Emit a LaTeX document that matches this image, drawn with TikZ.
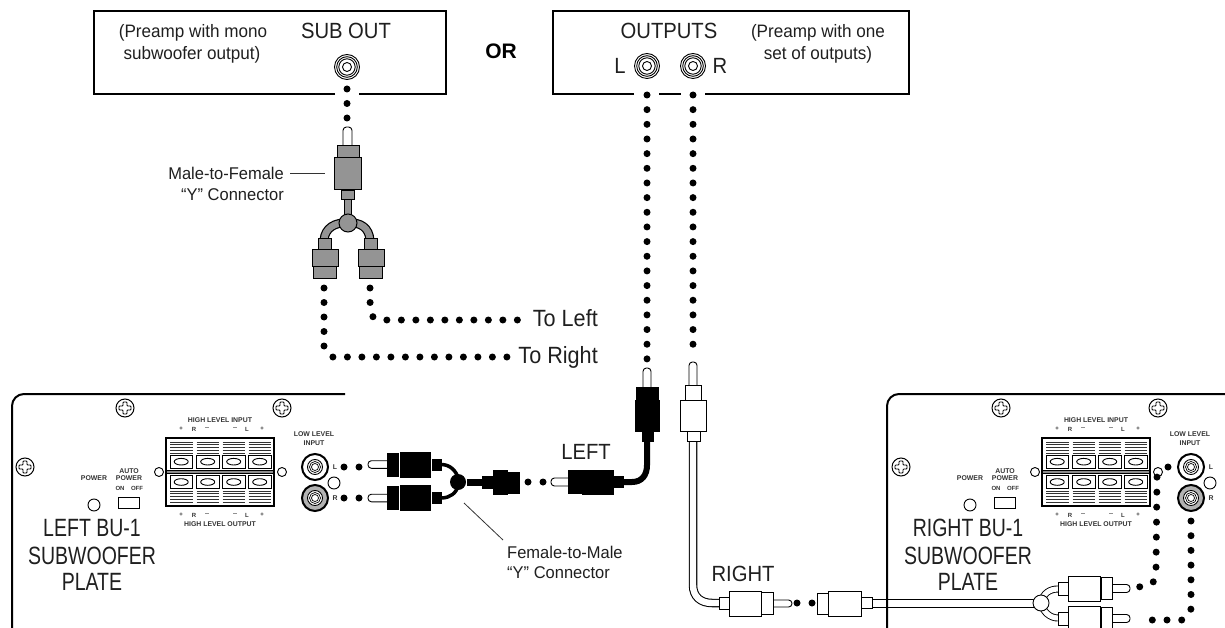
\documentclass[tikz,border=0pt]{standalone}
\usepackage{fontspec}
\setmainfont{Liberation Sans}
\newfontfamily\tinyfont{Liberation Sans}
\newfontfamily\bigfont{Liberation Sans}[FakeStretch=0.78]
\newfontfamily\midfont{Liberation Sans}[FakeStretch=0.92]
\newfontfamily\notefont{Liberation Sans}[FakeStretch=0.95]
\newfontfamily\labfont{Liberation Sans}[FakeStretch=0.97]
\tikzset{
  big/.style={font=\bigfont\fontsize{25}{25}\selectfont,inner sep=0pt,text=black!88},
  mid/.style={font=\midfont\fontsize{22}{22}\selectfont,inner sep=0pt,text=black!88},
  toline/.style={font=\midfont\fontsize{23.5}{24}\selectfont,inner sep=0pt,text=black!88},
  note/.style={font=\notefont\fontsize{18}{18}\selectfont,inner sep=0pt,text=black!88},
  lab/.style={font=\labfont\fontsize{17}{17}\selectfont,inner sep=0pt,text=black!88},
  tiny/.style={font=\tinyfont\bfseries\fontsize{6.9}{7}\selectfont,inner sep=0pt,text=black!80},
  tinier/.style={font=\tinyfont\bfseries\fontsize{6}{6}\selectfont,inner sep=0pt,text=black!80},
  dotsline/.style={line width=7pt,line cap=round,dash pattern=on 0pt off 14.5pt},
  edge/.style={line width=2pt,draw=black},
  thin line/.style={line width=0.8pt,draw=black!80},
  blk/.style={fill=black,draw=black,line width=0.6pt},
  gry/.style={fill=black!42,draw=black,line width=1pt},
  wht/.style={fill=white,draw=black,line width=0.9pt},
  tipw/.style={fill=white,draw=black,line width=0.9pt,rounded corners=3.4pt},
  hole/.style={circle,draw=black,line width=0.9pt,fill=white,inner sep=0pt,minimum size=12pt},
  slat/.style={line width=0.55pt,draw=black!80},
}
\newcommand{\screw}[3]{%
  \node[circle,draw=black,line width=1pt,minimum size=18pt,inner sep=0pt] (#1) at (#2,#3) {};
  \draw[line width=0.8pt,rounded corners=0.8pt,shift={(#2,#3)}]
    (-2,-6)--(2,-6)--(2,-2)--(6,-2)--(6,2)--(2,2)--(2,6)--(-2,6)--(-2,2)--(-6,2)--(-6,-2)--(-2,-2)--cycle;
}
\newcommand{\plate}[1]{%
  \screw{#1s1}{125}{408}\screw{#1s2}{282}{408}\screw{#1s3}{25}{467}
  \draw[line width=1.4pt,fill=white] (166,438) rectangle (274,506);
  \fill[black!45] (167,470.5) rectangle (273,473.5);
  \draw[line width=0.8pt] (166,470.2)--(274,470.2) (166,473.8)--(274,473.8);
  \foreach \cx in {170,196.5,222.5,248.5}{
    \foreach \ly in {442,444.7,447.4,450.1,453}{\draw[slat] (\cx,\ly)--(\cx+22.5,\ly);}
    \foreach \ly in {491,493.7,496.4,499.1,502}{\draw[slat] (\cx,\ly)--(\cx+22.5,\ly);}
    \draw[line width=1pt] (\cx,455.5) rectangle (\cx+22.5,468);
    \draw[line width=1pt] (\cx,475.5) rectangle (\cx+22.5,488.5);
    \draw[line width=0.9pt] (\cx+11.2,461.7) ellipse [x radius=7,y radius=3.3];
    \draw[line width=0.9pt] (\cx+11.2,482) ellipse [x radius=7,y radius=3.3];
  }
  \node[hole,minimum size=9pt] (#1hl) at (159,472) {};
  \node[hole,minimum size=9pt] (#1hr) at (282,472) {};
  \node[hole] (#1pw) at (94,505) {};
  \node[hole] (#1hm) at (334,483) {};
  \draw[line width=0.9pt] (118,497) rectangle (139,508);
  \node[tiny] (#1t1) at (220,420) {HIGH LEVEL INPUT};
  \node[tiny] (#1t2) at (220,524) {HIGH LEVEL OUTPUT};
  \node[tiny] (#1t3) at (314,434.5) {LOW LEVEL};
  \node[tiny] (#1t4) at (314,443) {INPUT};
  \node[tiny] (#1t5) at (94,478.5) {POWER};
  \node[tiny] (#1t6) at (129,471) {AUTO};
  \node[tiny] (#1t7) at (129,478.5) {POWER};
  \node[tinier] (#1t8) at (120,488) {ON};
  \node[tinier] (#1t9) at (137,488) {OFF};
  \foreach \lx/\ls [count=\li] in {181/+,194/R,207/--,235/--,247/L,262/+}{
    \node[tinier] (#1u\li) at (\lx,429) {\ls};
    \node[tinier] (#1d\li) at (\lx,515) {\ls};
  }
  \node[circle,draw=black,line width=2pt,fill=white,minimum size=26pt,inner sep=0pt] (#1jl) at (315,467) {};
  \node[circle,draw=black,line width=2pt,fill=black!30,minimum size=26pt,inner sep=0pt] (#1jr) at (315,498) {};
  \foreach \jn in {jl,jr}{
    \draw[line width=0.9pt,fill=white] (#1\jn) circle (7.5pt);
    \draw[line width=0.7pt] (#1\jn) circle (5.5pt);
    \draw[line width=0.7pt] (#1\jn) circle (3.5pt);
  }
  \node[tiny] (#1L) at (335,467) {L};
  \node[tiny] (#1R) at (335,498) {R};
}
\newcommand{\topjack}[3]{%
  \node[circle,draw=black,line width=0.9pt,minimum size=25pt,inner sep=0pt] (#1) at (#2,#3) {};
  \draw[line width=0.9pt] (#1) circle (10.3pt);
  \draw[line width=0.9pt] (#1) circle (8.2pt);
  \draw[line width=0.9pt] (#1) circle (4.5pt);
}
\begin{document}
\begin{tikzpicture}[x=1pt,y=-1pt]
\useasboundingbox (0,0) rectangle (1225,628);
\clip (0,0) rectangle (1225,628);
% ---- preamp boxes
\draw[edge] (335,94) -| (94,11) -| (446,94) -- (359,94);
\draw[edge] (634,94) -| (553,11) -| (909,94) -- (705,94);
\draw[edge] (659,94) -- (681,94);
\node[note] (pl1) at (193,33) {(Preamp with mono};
\node[note] (pl2) at (192,55) {subwoofer output)};
\node[mid] (subout) at (346,31) {SUB OUT};
\node[font=\bfseries\fontsize{21}{21}\selectfont,inner sep=0pt] (or) at (501,51) {OR};
\node[mid] (outputs) at (669,31) {OUTPUTS};
\node[mid] (Ltxt) at (620,66) {L};
\node[mid] (Rtxt) at (720,66) {R};
\node[note] (pr1) at (818,33) {(Preamp with one};
\node[note] (pr2) at (818,55) {set of outputs)};
\topjack{jsub}{347}{67}
\topjack{jL}{647}{66}
\topjack{jR}{693}{66}
% ---- plates
\draw[edge,rounded corners=12pt] (12,640) |- (345,394);
\draw[edge,rounded corners=12pt] (887,640) |- (1240,394);
\plate{a}
\begin{scope}[shift={(876,0)}]
\plate{b}
\end{scope}
\node[big] (a1) at (92,528) {LEFT BU-1};
\node[big] (a2) at (92,556) {SUBWOOFER};
\node[big] (a3) at (92,582) {PLATE};
\node[big] (b1) at (968,528) {RIGHT BU-1};
\node[big] (b2) at (968,556) {SUBWOOFER};
\node[big] (b3) at (968,582) {PLATE};
% ---- named points for the dotted runs
\coordinate (d1a) at (347,89); \coordinate (d1b) at (347,122);
\coordinate (d2a) at (324,288); \coordinate (d2b) at (324,346);
\coordinate (d2c) at (332,357); \coordinate (d2d) at (507,357);
\coordinate (d3a) at (370,288); \coordinate (d3b) at (370,302);
\coordinate (d3c) at (373,317); \coordinate (d3d) at (386,320); \coordinate (d3e) at (522,320);
\coordinate (d4a) at (647,95); \coordinate (d4b) at (647,361);
\coordinate (d5a) at (693,95); \coordinate (d5b) at (693,347);
\coordinate (d6a) at (1168,467); \coordinate (d6b) at (1157,477); \coordinate (d6c) at (1156,569);
\coordinate (d6d) at (1153,583); \coordinate (d6e) at (1139,587);
\coordinate (d7a) at (1191,521); \coordinate (d7b) at (1191,609); \coordinate (d7c) at (1183,620); \coordinate (d7d) at (1138.5,620);
\draw[dotsline] (d1a)--(d1b);
\draw[dotsline] (d2a)--(d2b)--(d2c)--(d2d);
\draw[dotsline] (d3a)--(d3b)--(d3c)--(d3d)--(d3e);
\draw[dotsline,dash pattern=on 0pt off 14.66pt] (d4a)--(d4b);
\draw[dotsline,dash pattern=on 0pt off 14.66pt] (d5a)--(d5b);
\draw[dotsline,dash pattern=on 0pt off 15pt] (d6a)--(d6b)--(d6c)--(d6d)--(d6e);
\draw[dotsline,dash pattern=on 0pt off 14.7pt] (d7a)--(d7b)--(d7c)--(d7d);
\foreach \dx in {344,359}{\fill (\dx,467) circle (3.5pt);\fill (\dx,498) circle (3.5pt);}
\fill (528,482) circle (3.5pt); \fill (543,482) circle (3.5pt);
\fill (797,603) circle (3.5pt); \fill (812,603) circle (3.5pt);
% ---- labels
\node[toline,anchor=east] (toleft) at (598,318) {To Left};
\node[toline,anchor=east] (toright) at (598,357) {To Right};
\node[mid] (left) at (586,452) {LEFT};
\node[mid] (right) at (743,574) {RIGHT};
\node[lab,anchor=east] (m1) at (284,173) {Male-to-Female};
\node[lab,anchor=east] (m2) at (284,195) {“Y” Connector};
\node[lab,anchor=west] (f1) at (507,552) {Female-to-Male};
\node[lab,anchor=west] (f2) at (507,573) {“Y” Connector};
\coordinate (ml) at (290,173); \coordinate (mr) at (325,173);
\coordinate (fa) at (464,503); \coordinate (fb) at (503,540);
\draw[thin line] (ml)--(mr);
\draw[thin line] (fa)--(fb);
% ---- grey Y connector
\draw[line width=9pt] (324,240) .. controls (325,228) and (335,222) .. (348,223) .. controls (361,222) and (369,228) .. (370,240);
\draw[line width=6.6pt,black!42] (324,240) .. controls (325,228) and (335,222) .. (348,223) .. controls (361,222) and (369,228) .. (370,240);
\draw[tipw] (343,127) rectangle (352,150);
\draw[gry] (337,146) rectangle (359,158);
\draw[gry] (344,198) rectangle (351,216);
\draw[gry] (334,158) rectangle (361,190);
\draw[gry] (341,191) rectangle (354,200);
\node[circle,gry,minimum size=18pt,inner sep=0pt] (hubg) at (348,223) {};
\foreach \ox in {0,46}{
  \draw[gry] (318+\ox,239) rectangle (331+\ox,250);
  \draw[gry] (313+\ox,266) rectangle (336+\ox,278);
  \draw[gry] (312+\ox,250) rectangle (338+\ox,266);
}
% ---- black Y connector
\foreach \py/\cy in {464.5/482,498/482}{
  \draw[tipw] (368,\py-3.8) rectangle (392,\py+3.8);
  \draw[blk] (387,\py-11.5) rectangle (398,\py+11.5);
  \draw[blk] (400,\py-12.5) rectangle (430,\py+12.5);
  \draw[blk] (432,\py-5.5) rectangle (441,\py+5.5);
}
\node[circle,fill=black,minimum size=16pt,inner sep=0pt] (hubk) at (458,482) {};
\draw[line width=3.5pt] (442,464.5) .. controls (450,465) and (456,470) .. (459,480);
\draw[line width=3.5pt] (442,498) .. controls (450,497.5) and (456,494) .. (459,484);
\draw[blk] (467,479) rectangle (482,485);
\draw[blk] (482,476) rectangle (492,488);
\draw[blk] (493,470) rectangle (507,494);
\draw[blk] (508,472) rectangle (519,493);
\draw[tipw] (551,478) rectangle (572,486);
\draw[blk] (568,470.5) rectangle (581,493);
\draw[blk] (582,470) rectangle (613,494);
\draw[blk] (614,476) rectangle (623,487);
\coordinate (cbA) at (624,482); \coordinate (cbB) at (647,442);
\draw[line width=6pt] (cbA) -- (632,482) .. controls (642,482) and (647,475) .. (647,465) -- (cbB);
\draw[tipw] (643,368) rectangle (651,392);
\draw[blk] (636,387) rectangle (658,399);
\draw[blk] (635,400) rectangle (659,431);
\draw[blk] (642,432) rectangle (653,441);
% ---- white connectors
\coordinate (cwA) at (693,441); \coordinate (cwB) at (720,603);
\draw[line width=8.5pt] (cwA) -- (693,585) .. controls (693,597) and (701,603) .. (712,603) -- (cwB);
\draw[line width=6.4pt,white] (cwA) -- (693,585) .. controls (693,597) and (701,603) .. (712,603) -- (cwB);
\draw[tipw] (689,362) rectangle (697,390);
\draw[wht] (685,385) rectangle (701,400);
\draw[wht] (680,400) rectangle (706,431);
\draw[wht] (687,431) rectangle (700,441);
\draw[wht] (719,597) rectangle (729,609);
\draw[tipw] (770,600) rectangle (792,607);
\draw[wht] (761,592) rectangle (773,614);
\draw[wht] (729,591) rectangle (761,616);
\draw[wht] (817,593) rectangle (828,614);
\draw[wht] (828,591) rectangle (861,616);
\coordinate (chA) at (872,603.5); \coordinate (chB) at (1034,603.5);
\fill (872,599.2) rectangle (1034,600.4);
\fill (872,606.6) rectangle (1034,607.8);
\draw[wht] (861,597) rectangle (872,608);
\draw[line width=7pt] (1058,589) .. controls (1050,589) and (1043,593) .. (1041,603) .. controls (1043,612) and (1050,618) .. (1058,618);
\draw[line width=5.2pt,white] (1058,589) .. controls (1050,589) and (1043,593) .. (1041,603) .. controls (1043,612) and (1050,618) .. (1058,618);
\node[hole,minimum size=16pt] (hubw) at (1041,603) {};
\foreach \py in {588.5,618.5}{
  \draw[tipw] (1108,\py-4) rectangle (1130,\py+4);
  \draw[wht] (1101,\py-11) rectangle (1112,\py+11);
  \draw[wht] (1068,\py-12.5) rectangle (1100,\py+12.5);
  \draw[wht] (1058,\py-6.5) rectangle (1068,\py+6.5);
}
\end{tikzpicture}
\end{document}
